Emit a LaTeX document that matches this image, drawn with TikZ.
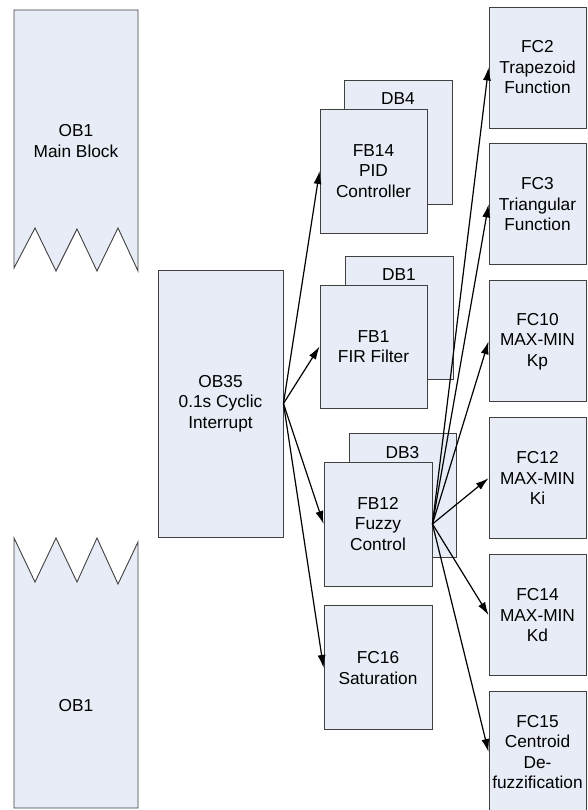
\documentclass[tikz,border=0pt]{standalone}
\usepackage{fontspec}
\setmainfont{Liberation Sans}
\usetikzlibrary{positioning,arrows.meta}
\definecolor{blkfill}{RGB}{231,236,246}
\definecolor{blkline}{RGB}{64,64,64}

\begin{document}
\begin{tikzpicture}[x=1pt,y=-1pt,>={Latex[length=13pt,width=8pt]},node distance=15pt,
        font=\fontsize{17.3}{20.5}\selectfont,every node/.style={align=center},
        cut/.style={draw=blkline,fill=blkfill,line width=0.9pt},
        blk/.style={cut,inner sep=0pt,minimum width=107pt,minimum height=124pt},
        fcblk/.style={blk,minimum width=97pt,minimum height=121pt},
        conn/.style={->,black,line width=1.2pt}]
        \useasboundingbox (0,0) rectangle (587,810);
        \draw[cut] (14,10) -- (138,10) -- (138,271) -- (118,228) -- (97,271) -- (77,229) -- (56,271) -- (35,228) -- (14,268) -- cycle;
        \node (ob1a) at (76,141) {OB1\\Main Block};
        \draw[cut] (14,538) -- (35,582) -- (56,538) -- (77,582) -- (97,538) -- (118,584) -- (138,542) -- (138,808) -- (14,808) -- cycle;
        \node (ob1b) at (76,706) {OB1};
        \node[blk,minimum width=125pt,minimum height=267pt] (ob35) at (220.5,403.5) {OB35\\0.1s Cyclic\\Interrupt};
        \node[blk,minimum width=108pt] (db4) at (398,142) {};
        \node[anchor=north,inner sep=0pt] (db4lbl) at ([yshift=-13pt]db4.north) {DB4};
        \node[blk] (fb14) at (373.5,171) {FB14\\PID\\Controller};
        \node[blk,minimum width=108pt,minimum height=123pt] (db1) at (399,317.5) {};
        \node[anchor=north,inner sep=0pt] (db1lbl) at ([yshift=-13pt]db1.north) {DB1};
        \node[blk,minimum height=123pt] (fb1) at (373.5,346.5) {FB1\\FIR Filter};
        \node[blk] (db3) at (402.5,495.5) {};
        \node[anchor=north,inner sep=0pt] (db3lbl) at ([yshift=-13pt]db3.north) {DB3};
        \node[blk,minimum width=108pt] (fb12) at (378,524) {FB12\\Fuzzy\\Control};
        \node[blk,minimum width=108pt,below=19pt of fb12] (fc16) {FC16\\Saturation};
        \node[fcblk] (fc2) at (537.5,67.5) {FC2\\Trapezoid\\Function};
        \node[fcblk,below=of fc2] (fc3) {FC3\\Triangular\\Function};
        \node[fcblk,below=of fc3] (fc10) {FC10\\MAX-MIN\\Kp};
        \node[fcblk,below=of fc10] (fc12) {FC12\\MAX-MIN\\Ki};
        \node[fcblk,below=of fc12] (fc14) {FC14\\MAX-MIN\\Kd};
        \node[fcblk,below=of fc14] (fc15) {FC15\\Centroid\\De-\\fuzzification};
        \draw[conn] (ob35.east) -- (fb14.west);
        \draw[conn] (ob35.east) -- (fb1.west);
        \draw[conn] (ob35.east) -- (fb12.west);
        \draw[conn] (ob35.east) -- (fc16.west);
        \draw[conn] (fb12.east) -- (fc2.west);
        \draw[conn] (fb12.east) -- (fc3.west);
        \draw[conn] (fb12.east) -- (fc10.west);
        \draw[conn] (fb12.east) -- (fc12.west);
        \draw[conn] (fb12.east) -- (fc14.west);
        \draw[conn] (fb12.east) -- (fc15.west);
\end{tikzpicture}
\end{document}
